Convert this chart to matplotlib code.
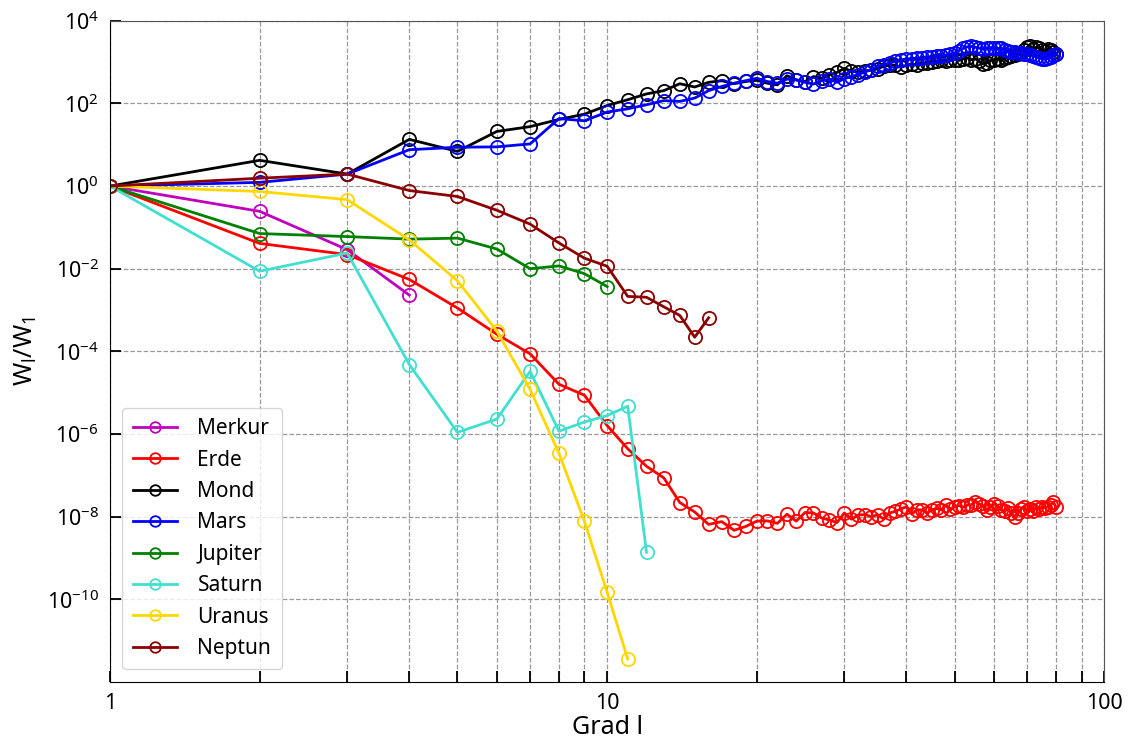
import numpy as np
import matplotlib
matplotlib.use("Agg")
import matplotlib.pyplot as plt
from matplotlib.ticker import FixedLocator, LogFormatterSciNotation, NullFormatter

plt.rcParams['font.family'] = ['Noto Sans', 'DejaVu Sans']
plt.rcParams['mathtext.fontset'] = 'custom'
plt.rcParams['mathtext.rm'] = 'Noto Sans'
plt.rcParams['mathtext.it'] = 'Noto Sans:italic'

# Daten: W_l / W_1 ueber Grad l
merkur = [1, 0.245, 0.029, 0.0023]
erde = [1, 0.041, 0.022, 0.0055, 0.00112, 2.6e-4, 8.7e-5, 1.6e-5, 8.7e-6, 1.6e-6,
        4.4e-7, 1.66e-7, 8.7e-8, 2.2e-8, 1.3e-8, 6.5e-9, 7.6e-9, 4.7e-9, 5.8e-9, 7.8e-9,
        7.9e-9, 6.9e-9, 1.15e-8, 7.8e-9, 1.26e-8, 1.23e-8, 9.3e-9, 8.3e-9, 7.2e-9, 1.23e-8,
        8.7e-9, 1.1e-8, 1.12e-8, 1.0e-8, 1.12e-8, 8.7e-9, 1.23e-8, 1.35e-8, 1.55e-8, 1.74e-8,
        1.15e-8, 1.48e-8, 1.45e-8, 1.23e-8, 1.45e-8, 1.58e-8, 1.45e-8, 1.9e-8, 1.55e-8, 1.74e-8,
        1.86e-8, 1.7e-8, 1.9e-8, 1.95e-8, 2.3e-8, 2.04e-8, 1.86e-8, 1.45e-8, 1.74e-8, 2.04e-8,
        1.86e-8, 1.45e-8, 1.35e-8, 1.62e-8, 1.2e-8, 1.0e-8, 1.26e-8, 1.55e-8, 1.74e-8, 1.35e-8,
        1.55e-8, 1.41e-8, 1.7e-8, 1.55e-8, 1.74e-8, 1.62e-8, 1.74e-8, 1.95e-8, 2.24e-8, 1.7e-8]
mond = [1, 4.2, 1.95, 13.5, 6.9, 21, 27.5, 41, 55, 89,
        123, 170, 204, 300, 250, 324, 355, 300, 340, 363,
        309, 282, 468, 372, 339, 447, 407, 490, 562, 708,
        603, 575, 617, 631, 692, 794, 851, 832, 759, 832,
        912, 851, 933, 977, 1000, 1047, 1096, 1072, 1122, 1148,
        1096, 1202, 1259, 1148, 1202, 1047, 912, 955, 1096, 1148,
        1202, 1096, 1259, 1318, 1413, 1514, 1585, 1660, 1995, 2291,
        2399, 2089, 2291, 2188, 1995, 1820, 2089, 1995, 1738, 1585]
mars = [1, 1.23, 1.95, 7.6, 8.7, 8.9, 10.5, 43, 38, 62,
        74, 93, 117, 112, 135, 204, 257, 309, 355, 407,
        339, 309, 389, 372, 324, 295, 355, 389, 324, 398,
        447, 501, 575, 661, 794, 871, 955, 1047, 1122, 1202,
        1202, 1259, 1230, 1318, 1318, 1380, 1413, 1479, 1585, 1660,
        1905, 2138, 2344, 2399, 2291, 2188, 2089, 2138, 2239, 2188,
        2138, 2138, 1995, 1862, 1778, 1738, 1698, 1660, 1585, 1585,
        1514, 1413, 1318, 1259, 1202, 1175, 1230, 1318, 1514, 1585]
jupiter = [1, 0.071, 0.06, 0.052, 0.055, 0.03, 0.01, 0.0117, 0.0076, 0.0037]
saturn = [1, 0.0087, 0.024, 4.8e-5, 1.1e-6, 2.3e-6, 3.3e-5, 1.17e-6, 1.95e-6, 2.8e-6,
          4.7e-6, 1.38e-9]
uranus = [1, 0.74, 0.47, 0.05, 0.0051, 3.1e-4, 1.2e-5, 3.4e-7, 7.8e-9, 1.48e-10, 3.6e-12]
neptun = [1, 1.55, 1.95, 0.78, 0.56, 0.26, 0.12, 0.042, 0.018, 0.0115,
          0.00214, 0.00204, 0.0012, 0.00074, 2.2e-4, 6.5e-4]

reihen = [("Merkur", merkur, "m"), ("Erde", erde, "r"), ("Mond", mond, "k"),
          ("Mars", mars, "b"), ("Jupiter", jupiter, "g"), ("Saturn", saturn, "turquoise"),
          ("Uranus", uranus, "gold"), ("Neptun", neptun, "darkred")]

fig = plt.figure(figsize=(11.28, 7.45), dpi=100)
ax = fig.add_axes([0.0975, 0.0846, 0.8815, 0.8875])

for name, werte, farbe in reihen:
    l = np.arange(1, len(werte) + 1)
    ax.plot(l, werte, '-o', color=farbe, lw=2, ms=9.5, mfc='none', mew=1.3, label=name)

ax.set_xscale('log')
ax.set_yscale('log')
ax.set_xlim(1, 100)
ax.set_ylim(1e-12, 1e4)

ax.xaxis.set_major_locator(FixedLocator([1, 10, 100]))
ax.xaxis.set_major_formatter(plt.FuncFormatter(lambda v, p: "%d" % v))
ax.xaxis.set_minor_locator(FixedLocator([2, 3, 4, 5, 6, 7, 8, 9, 20, 30, 40, 50, 60, 70, 80, 90]))
ax.xaxis.set_minor_formatter(NullFormatter())
ax.yaxis.set_major_locator(FixedLocator(10.0 ** np.arange(-10, 5, 2)))
ax.yaxis.set_major_formatter(LogFormatterSciNotation())
ax.yaxis.set_minor_locator(FixedLocator([]))

ax.tick_params(which='both', direction='in', length=8, width=1.3, top=False, right=False)
ax.tick_params(which='major', labelsize=15.5, pad=8)
ax.grid(True, which='both', ls='--', color='#999999', lw=0.9)

for s in ['top', 'right']:
    ax.spines[s].set_color('#555555')

ax.set_xlabel('Grad l', fontsize=18, labelpad=1)
ax.set_ylabel(r'$\mathregular{W_l/W_1}$', fontsize=18, labelpad=6)

ax.legend(loc='lower left', fontsize=15, handlelength=2.1, markerscale=0.8,
          borderaxespad=0.6, labelspacing=0.5, handletextpad=1.0, borderpad=0.5)

fig.savefig('out.png', dpi=100)
